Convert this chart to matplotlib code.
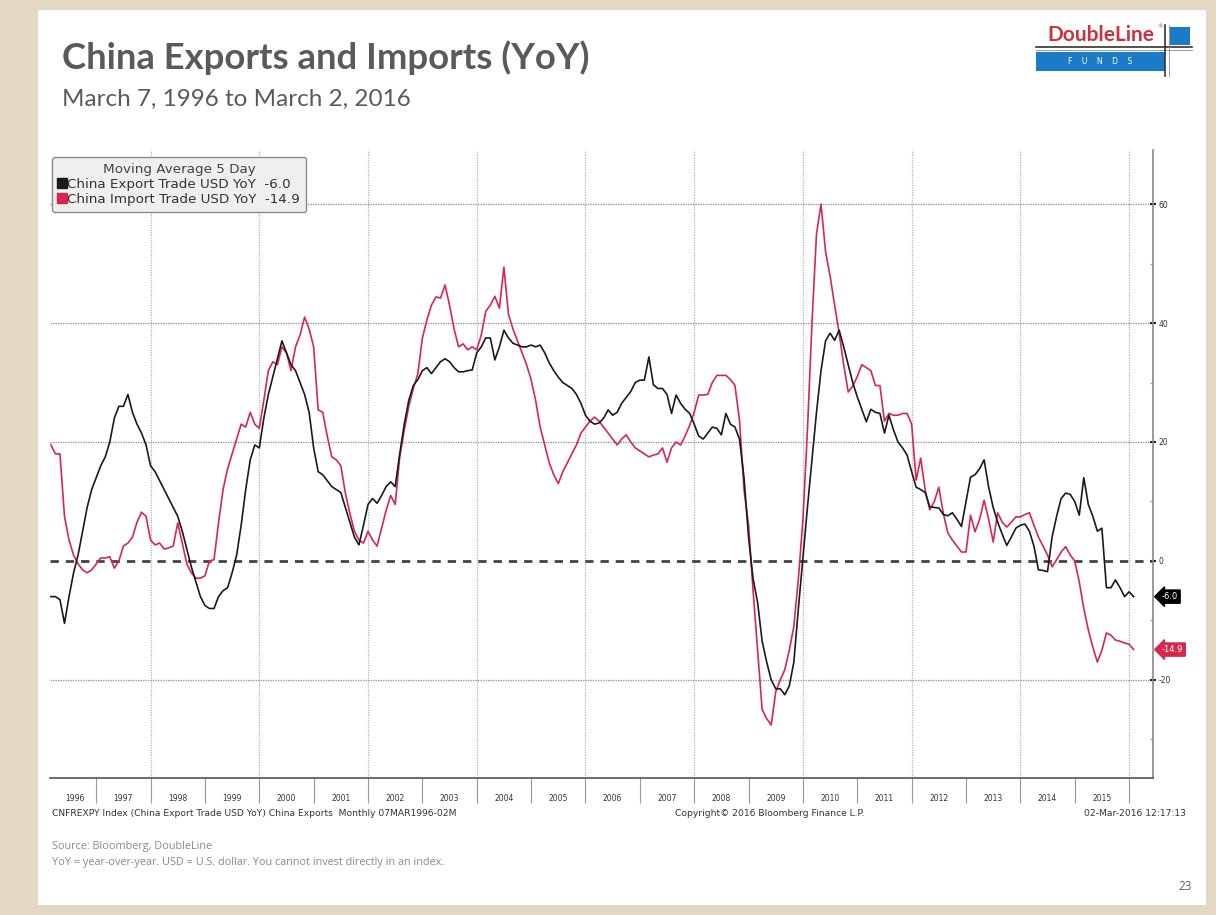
import matplotlib
matplotlib.use('Agg')
import matplotlib.pyplot as plt
from matplotlib.patches import Rectangle
from matplotlib.lines import Line2D
import matplotlib.transforms as mtransforms
import numpy as np
import pandas as pd

W, H = 1216, 915

# monthly values, Mar 1996 .. Feb 2016
exports = [
    -6, -6, -6.5, -10.5, -6, -2, 1, 5, 9, 12,                       # 1996
    14, 16, 17.5, 20, 24, 26, 26, 28, 25, 23, 21.5, 19.5,           # 1997
    16, 15, 13.5, 12, 10.5, 9, 7.5, 5, 2, -1, -3.5, -6,             # 1998
    -7.5, -8, -8, -6, -5, -4.5, -2, 1, 6, 12, 17, 19.5,             # 1999
    19, 24, 28, 31, 34, 37, 35, 33, 32, 30, 28, 25,                 # 2000
    19, 15, 14.5, 13.5, 12.5, 12, 11.5, 9, 6.5, 4, 2.7, 6,          # 2001
    9.5, 10.5, 9.7, 11, 12.5, 13.3, 12.5, 18, 23, 27, 29.5, 30.5,   # 2002
    32, 32.5, 31.5, 32.5, 33.5, 34, 33.5, 32.5, 31.8, 31.8, 32, 32.1,  # 2003
    35, 36, 37.5, 37.5, 33.8, 36, 38.8, 37.5, 36.6, 36.3, 36, 36,   # 2004
    36.3, 36, 36.3, 35, 33.3, 32, 30.9, 30, 29.5, 29, 28, 26.5,     # 2005
    24.5, 23.5, 23, 23.2, 24, 25.4, 24.5, 25, 26.5, 27.5, 28.5, 30,  # 2006
    30.4, 30.4, 34.3, 29.6, 29, 29, 28, 24.8, 27.9, 26.5, 25.5, 24.8,  # 2007
    23, 21, 20.5, 21.5, 22.5, 22.3, 21.2, 24.8, 23, 22.5, 20.5, 14,  # 2008
    4, -3, -7, -13.5, -17, -20, -21.5, -21.5, -22.5, -21, -17, -8,  # 2009
    0.5, 9, 17, 25, 32, 37, 38.3, 37.1, 38.8, 36, 33, 30,           # 2010
    27.6, 25.5, 23.4, 25.5, 25, 24.8, 21.5, 24.5, 22, 20, 19, 17.8,  # 2011
    15, 12.4, 12, 11.5, 9.1, 9, 8.9, 7.8, 7.6, 8.1, 7, 5.8,         # 2012
    10, 14.1, 14.5, 15.5, 17, 12.4, 9, 6.5, 4.5, 2.6, 4, 5.5,       # 2013
    6, 6.2, 5, 2.5, -1.5, -1.6, -1.8, 4, 7.5, 10.5, 11.4, 11.2,     # 2014
    10, 7.7, 14, 9.5, 7.5, 5, 5.5, -4.5, -4.5, -3.2, -4.5, -6,      # 2015
    -5.2, -6.0,                                                      # 2016
]
imports = [
    19.5, 18, 18, 7.5, 3.5, 1, -0.5, -1.5, -2, -1.5,                 # 1996
    -0.5, 0.5, 0.5, 0.7, -1.2, 0, 2.5, 3, 4, 6.5, 8.2, 7.5,          # 1997
    3.5, 2.7, 3, 2, 2.2, 2.5, 6.4, 3, -0.5, -2, -2.9, -2.9,          # 1998
    -2.5, 0, 0.2, 6.4, 12, 15.5, 18, 20.5, 23, 22.5, 25, 23,         # 1999
    22.3, 27, 32, 33.5, 33, 36, 35, 32, 36, 38, 41, 39,              # 2000
    36, 25.4, 25, 21, 17.5, 17, 16, 11.4, 8, 5, 3.5, 3,              # 2001
    5, 3.5, 2.5, 5.5, 8.5, 11, 9.5, 17.5, 22, 26, 29, 31.5,          # 2002
    37.5, 40.5, 43, 44.4, 44.2, 46.4, 43, 39, 36, 36.5, 35.5, 36,    # 2003
    35.5, 38, 42, 43, 44.5, 42.5, 49.4, 41.5, 39, 37, 35, 33,        # 2004
    30.5, 27, 22.5, 19.5, 16.5, 14.5, 13, 15, 16.5, 18, 19.5, 21.5,  # 2005
    22.5, 23.5, 24.2, 23.5, 22.5, 21.5, 20.5, 19.5, 20.5, 21.2, 20, 19,  # 2006
    18.5, 18, 17.5, 17.8, 18, 19, 16.6, 19, 20, 19.5, 21, 22.8,      # 2007
    25, 27.9, 27.9, 28, 30, 31.2, 31.2, 31.2, 30.5, 29.5, 23.7, 12,  # 2008
    6, -5, -15, -25, -26.5, -27.6, -22, -20, -18.3, -15, -11, -3,    # 2009
    6.9, 22, 40, 55, 60, 52, 47.9, 43, 38.3, 33, 28.4, 29.4,         # 2010
    31, 33, 32.5, 32, 29.5, 29.5, 23.5, 24.8, 24.5, 24.5, 24.8, 24.8,  # 2011
    23, 13.6, 17.3, 11.9, 8.6, 10, 12.4, 8, 4.7, 3.5, 2.5, 1.5,      # 2012
    1.5, 7.7, 4.9, 7, 10.2, 7, 3.2, 8.1, 6.5, 5.7, 6.5, 7.4,         # 2013
    7.4, 7.8, 8.1, 6, 4, 2.5, 1, -1, 0.2, 1.5, 2.4, 1,               # 2014
    0, -3.5, -8, -11.6, -14.5, -17, -15, -12.1, -12.5, -13.3, -13.5, -13.8,  # 2015
    -14, -14.9,                                                       # 2016
]
dates = pd.date_range('1996-03-01', periods=len(exports), freq='MS')
t = dates.year + (dates.month - 1) / 12.0

export_label = 'China Export Trade USD YoY  -6.0'
import_label = 'China Import Trade USD YoY  -14.9'
years = list(range(1996, 2016))

BLACK = '#1a1a1a'
RED = '#d6284e'


def fx(x):
    return x / W


def fy(y):
    return 1 - y / H


fig = plt.figure(figsize=(W / 100, H / 100), dpi=100)
fig.patch.set_facecolor('#e4d8c4')
fig.add_artist(Rectangle((fx(38), fy(905)), fx(1206) - fx(38), fy(10) - fy(905),
                         transform=fig.transFigure, fc='white', ec='none', zorder=-10))

# titles
fig.text(fx(62), fy(58), 'China Exports and Imports (YoY)', fontsize=26.3, fontweight='bold',
         family='Lato', color='#5a5a5a', va='center', ha='left')
fig.text(fx(62), fy(99), 'March 7, 1996 to March 2, 2016', fontsize=17.5,
         family='Lato', color='#5a5a5a', va='center', ha='left')

# logo
lg = fig.add_axes([fx(1025), fy(82), fx(1200) - fx(1025), fy(18) - fy(82)])
lg.set_xlim(1025, 1200)
lg.set_ylim(82, 18)
lg.axis('off')
lg.add_patch(Rectangle((1036, 52), 129, 19, fc='#1b7bc4', ec='none'))
lg.add_patch(Rectangle((1170, 27), 20, 18, fc='#1b7bc4', ec='none'))
lg.plot([1036, 1192], [47, 47], color='#333333', lw=1.2)
lg.plot([1036, 1192], [49.5, 49.5], color='#888888', lw=0.6)
lg.plot([1165, 1165], [25, 76], color='#333333', lw=1.2)
lg.plot([1168.5, 1168.5], [25, 76], color='#888888', lw=0.6)
lg.text(1101, 35, 'DoubleLine', color='#c8333f', fontsize=15, fontweight='bold',
        family='Lato', ha='center', va='center')
lg.text(1160, 27, '®', color='#c8333f', fontsize=4, ha='center', va='center')
lg.text(1100, 61.5, 'F    U    N    D    S', color='white', fontsize=5.5,
        family='DejaVu Sans', ha='center', va='center')

# main chart
ax = fig.add_axes([fx(50), fy(778), fx(1153) - fx(50), fy(150) - fy(778)])
ax.set_xlim(1996.15, 2016.44)
ax.set_ylim(-36.5, 69.1)

for yr in range(1998, 2017, 2):
    ax.axvline(yr, color='#b0b0b0', lw=0.9, ls=(0, (1, 1)), zorder=1)
for v in [-20, 20, 40, 60]:
    ax.axhline(v, color='#9a9a9a', lw=1.0, ls=(0, (1, 0.8)), zorder=1)
ax.axhline(0, color='#444444', lw=2.0, ls=(0, (3, 2.5)), zorder=2)

ax.plot(t, imports, color=RED, lw=1.2, zorder=3)
ax.plot(t, exports, color=BLACK, lw=1.2, zorder=4)

for s in ['top', 'left']:
    ax.spines[s].set_visible(False)
ax.spines['right'].set_color('#888888')
ax.spines['right'].set_linewidth(1.2)
ax.spines['bottom'].set_color('#555555')
ax.spines['bottom'].set_linewidth(1.2)

ax.yaxis.tick_right()
ax.set_yticks([-20, 0, 20, 40, 60])
ax.set_yticklabels(['-20', '0', '20', '40', '60'])
ax.set_yticks(np.arange(-30, 70, 10), minor=True)
ax.tick_params(axis='y', which='major', direction='inout', length=4, width=1.5,
               color='#222222', labelsize=5.5, labelcolor='#333333', pad=2)
ax.tick_params(axis='y', which='minor', direction='in', length=2, width=0.8, color='#999999')

ax.set_xticks(range(1997, 2017))
ax.set_xticklabels([])
ax.set_xticks([1996.6] + [y + 0.5 for y in years[1:]], minor=True)
ax.set_xticklabels([str(y) for y in years], minor=True)
ax.tick_params(axis='x', which='major', direction='out', length=18, width=0.8, color='#999999')
ax.tick_params(axis='x', which='minor', length=0, labelsize=5.5, labelcolor='#333333', pad=11.5)

# end value tags
tr = mtransforms.blended_transform_factory(ax.transAxes, ax.transData)
ax.text(1.008, exports[-1], '-6.0', transform=tr, color='white', fontsize=6,
        ha='left', va='center', bbox=dict(boxstyle='larrow,pad=0.25', fc='black', ec='black'))
ax.text(1.008, imports[-1], '-14.9', transform=tr, color='white', fontsize=6,
        ha='left', va='center', bbox=dict(boxstyle='larrow,pad=0.25', fc=RED, ec=RED))

# legend
handles = [Line2D([], [], marker='s', color=BLACK, ls='none', markersize=7),
           Line2D([], [], marker='s', color=RED, ls='none', markersize=7)]
leg = ax.legend(handles, [export_label, import_label], title='Moving Average 5 Day',
                loc='upper left', bbox_to_anchor=(fx(52), fy(157)),
                bbox_transform=fig.transFigure, fontsize=9.7, title_fontsize=9.7,
                frameon=True, fancybox=True, facecolor='#efefef', edgecolor='#8a8a8a',
                framealpha=1, handlelength=0.55, handletextpad=0.15, borderpad=0.45,
                labelspacing=0.15, borderaxespad=0)
leg.get_title().set_color('#444444')
for txt in leg.get_texts():
    txt.set_color('#333333')
leg.set_zorder(10)

# footer texts
fig.text(fx(52), fy(814), 'CNFREXPY Index (China Export Trade USD YoY) China Exports  Monthly 07MAR1996-02M',
         fontsize=6.6, color='#333333', va='center', ha='left')
fig.text(fx(770), fy(814), 'Copyright\u00a9 2016 Bloomberg Finance L.P.',
         fontsize=6.6, color='#333333', va='center', ha='center')
fig.text(fx(1186), fy(814), '02-Mar-2016 12:17:13',
         fontsize=6.6, color='#333333', va='center', ha='right')
fig.text(fx(52), fy(847), 'Source: Bloomberg, DoubleLine', fontsize=7.8,
         family='Open Sans', color='#8a8a8a', va='center', ha='left')
fig.text(fx(52), fy(862), 'YoY = year-over-year. USD = U.S. dollar. You cannot invest directly in an index.',
         fontsize=7.8, family='Open Sans', color='#8a8a8a', va='center', ha='left')
fig.text(fx(1185), fy(886), '23', fontsize=8.5, family='Open Sans', color='#666666',
         va='center', ha='center')

fig.savefig('out.png', dpi=100, facecolor=fig.get_facecolor())
